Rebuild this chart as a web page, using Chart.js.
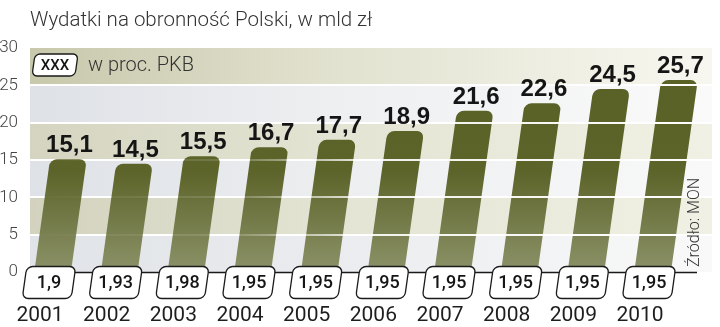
<!DOCTYPE html>
<html><head><meta charset="utf-8">
<script src="https://cdn.jsdelivr.net/npm/chart.js@4/dist/chart.umd.min.js"></script>
<style>html,body{margin:0;padding:0;background:#fff}#wrap{width:720px;height:327px}</style>
</head><body><div id="wrap"><canvas id="c" width="720" height="327"></canvas></div>
<script>
const years = ['2001','2002','2003','2004','2005','2006','2007','2008','2009','2010'];
const spending = [15.1, 14.5, 15.5, 16.7, 17.7, 18.9, 21.6, 22.6, 24.5, 25.7];
const spendingLabels = ['15,1','14,5','15,5','16,7','17,7','18,9','21,6','22,6','24,5','25,7'];
const gdpShare = ['1,9','1,93','1,98','1,95','1,95','1,95','1,95','1,95','1,95','1,95'];
const yTickValues = [0, 5, 10, 15, 20, 25, 30];
const titleText = 'Wydatki na obronność Polski, w mld zł';
const legendKey = 'XXX';
const legendText = 'w proc. PKB';
const sourceText = 'Źródło: MON';

const SKEW = 0.14, SKEW_Y0 = 362;
const PLOT_LEFT = 30, PLOT_RIGHT = 712;

function skewedRoundRect(ctx, cx, cy, w, h, r) {
  ctx.save();
  ctx.translate(cx, cy);
  ctx.transform(1, 0, -SKEW, 1, 0, 0);
  ctx.beginPath();
  ctx.roundRect(-w / 2, -h / 2, w, h, r);
  ctx.fillStyle = '#fff';
  ctx.fill();
  ctx.lineWidth = 1.3;
  ctx.strokeStyle = '#1a1a1a';
  ctx.stroke();
  ctx.restore();
}

const bandColors = [
  ['rgb(224,227,231)', 'rgb(234,236,239)', 'rgb(249,249,249)'],
  ['rgb(210,210,190)', 'rgb(228,228,212)', 'rgb(240,240,228)'],
  ['rgb(222,225,230)', 'rgb(236,238,240)', 'rgb(249,249,249)'],
  ['rgb(212,212,192)', 'rgb(228,228,212)', 'rgb(240,240,228)'],
  ['rgb(222,225,230)', 'rgb(238,239,241)', 'rgb(250,250,250)'],
  ['rgb(200,200,172)', 'rgb(226,226,208)', 'rgb(247,247,240)']
];

const backgroundPlugin = {
  id: 'bg',
  beforeDatasetsDraw(chart) {
    const { ctx } = chart; const y = chart.scales.y;
    ctx.save();
    for (let i = 0; i < 6; i++) {
      const y1 = y.getPixelForValue(yTickValues[i + 1]);
      const y0 = y.getPixelForValue(yTickValues[i]);
      const g = ctx.createLinearGradient(PLOT_LEFT, 0, PLOT_RIGHT, 0);
      g.addColorStop(0, bandColors[i][0]);
      g.addColorStop(0.45, bandColors[i][1]);
      g.addColorStop(1, bandColors[i][2]);
      ctx.fillStyle = g;
      ctx.fillRect(PLOT_LEFT, y1, PLOT_RIGHT - PLOT_LEFT, y0 - y1);
    }
    ctx.strokeStyle = '#fff'; ctx.lineWidth = 2;
    for (let i = 1; i < 6; i++) {
      const yy = Math.round(y.getPixelForValue(yTickValues[i]));
      ctx.beginPath(); ctx.moveTo(PLOT_LEFT, yy); ctx.lineTo(PLOT_RIGHT, yy); ctx.stroke();
    }
    ctx.restore();
  },
  beforeDatasetDraw(chart) {
    chart.ctx.save();
    chart.ctx.transform(1, 0, -SKEW, 1, SKEW * SKEW_Y0, 0);
  },
  afterDatasetDraw(chart) {
    chart.ctx.restore();
  },
  afterDatasetsDraw(chart) {
    const { ctx } = chart; const y = chart.scales.y; const x = chart.scales.x;
    ctx.save();
    const g = ctx.createLinearGradient(PLOT_LEFT, 0, PLOT_RIGHT, 0);
    g.addColorStop(0, 'rgba(255,255,255,0)');
    g.addColorStop(0.3, 'rgba(255,255,255,0.15)');
    g.addColorStop(0.5, 'rgba(255,255,255,0.9)');
    g.addColorStop(1, 'rgba(255,255,255,1)');
    ctx.strokeStyle = g; ctx.lineWidth = 2;
    for (let i = 1; i < 6; i++) {
      const yy = Math.round(y.getPixelForValue(yTickValues[i]));
      ctx.beginPath(); ctx.moveTo(PLOT_LEFT, yy); ctx.lineTo(PLOT_RIGHT, yy); ctx.stroke();
    }
    const y0 = Math.round(y.getPixelForValue(0)) + 0.5;
    ctx.strokeStyle = '#1a1a1a'; ctx.lineWidth = 1.3;
    ctx.beginPath(); ctx.moveTo(PLOT_LEFT, y0); ctx.lineTo(697, y0); ctx.stroke();
    const meta = chart.getDatasetMeta(0);
    ctx.fillStyle = '#151515';
    ctx.font = 'bold 24px "Liberation Sans", Arial, sans-serif';
    ctx.textAlign = 'center'; ctx.textBaseline = 'alphabetic';
    meta.data.forEach((el, i) => {
      const cx = el.x + SKEW * (SKEW_Y0 - el.y) + 1;
      ctx.fillText(spendingLabels[i], cx, el.y - 7);
    });
    ctx.font = '500 18px Roboto, "Liberation Sans", sans-serif';
    ctx.textBaseline = 'middle';
    for (let i = 0; i < years.length; i++) {
      const cx = x.getPixelForValue(i) + 9;
      const cy = y0 + 10;
      skewedRoundRect(ctx, cx, cy, 49, 32, 6);
      ctx.fillStyle = '#151515';
      ctx.fillText(gdpShare[i], cx, cy + 1);
    }
    skewedRoundRect(ctx, 55, 65, 43, 22, 5);
    ctx.fillStyle = '#151515';
    ctx.font = '500 15px Roboto, "Liberation Sans", sans-serif';
    ctx.fillText(legendKey, 55, 66);
    ctx.textAlign = 'left';
    ctx.fillStyle = '#333';
    ctx.font = '300 20px Roboto, "Liberation Sans", sans-serif';
    ctx.fillText(legendText, 88, 66);
    ctx.textBaseline = 'alphabetic';
    ctx.font = '300 20.5px Roboto, "Liberation Sans", sans-serif';
    ctx.fillStyle = '#333';
    ctx.fillText(titleText, 30, 26);
    ctx.save();
    ctx.translate(699, 267);
    ctx.rotate(-Math.PI / 2);
    ctx.font = '300 16px Roboto, "Liberation Sans", sans-serif';
    ctx.fillStyle = '#333';
    ctx.fillText(sourceText, 0, 0);
    ctx.restore();
    ctx.restore();
  }
};

new Chart(document.getElementById('c'), {
  type: 'bar',
  data: {
    labels: years,
    datasets: [{
      data: spending,
      clip: false,
      backgroundColor(context) {
        const chart = context.chart; const area = chart.chartArea;
        if (!area) return '#6b7335';
        const g = chart.ctx.createLinearGradient(0, area.top, 0, area.bottom);
        g.addColorStop(0, 'rgb(88,96,38)');
        g.addColorStop(0.55, 'rgb(92,100,42)');
        g.addColorStop(1, 'rgb(140,146,104)');
        return g;
      },
      borderWidth: 0,
      borderRadius: { topLeft: 7, topRight: 7, bottomLeft: 0, bottomRight: 0 },
      borderSkipped: 'start',
      barPercentage: 0.55,
      categoryPercentage: 1
    }]
  },
  options: {
    responsive: false,
    animation: false,
    devicePixelRatio: 1,
    layout: { padding: { top: 48, right: 80, left: 0, bottom: 0 } },
    plugins: { legend: { display: false }, tooltip: { enabled: false }, title: { display: false } },
    scales: {
      x: {
        type: 'category',
        offset: false,
        grid: { display: false, drawTicks: false },
        border: { display: false },
        ticks: { color: '#1e1e1e', font: { family: 'Roboto', size: 21 }, padding: 31, maxRotation: 0, autoSkip: false },
        afterFit(scale) { scale.height = 55; scale.paddingLeft = 0; scale.paddingRight = 0; }
      },
      y: {
        min: 0, max: 30,
        grid: { display: false, drawTicks: false },
        border: { display: false },
        afterBuildTicks(scale) { scale.ticks = yTickValues.map(v => ({ value: v })); },
        ticks: { color: '#444', font: { family: 'Roboto', size: 17, weight: '300' }, padding: 22 },
        afterFit(scale) { scale.width = 40; }
      }
    }
  },
  plugins: [backgroundPlugin]
});
</script>
</body></html>
